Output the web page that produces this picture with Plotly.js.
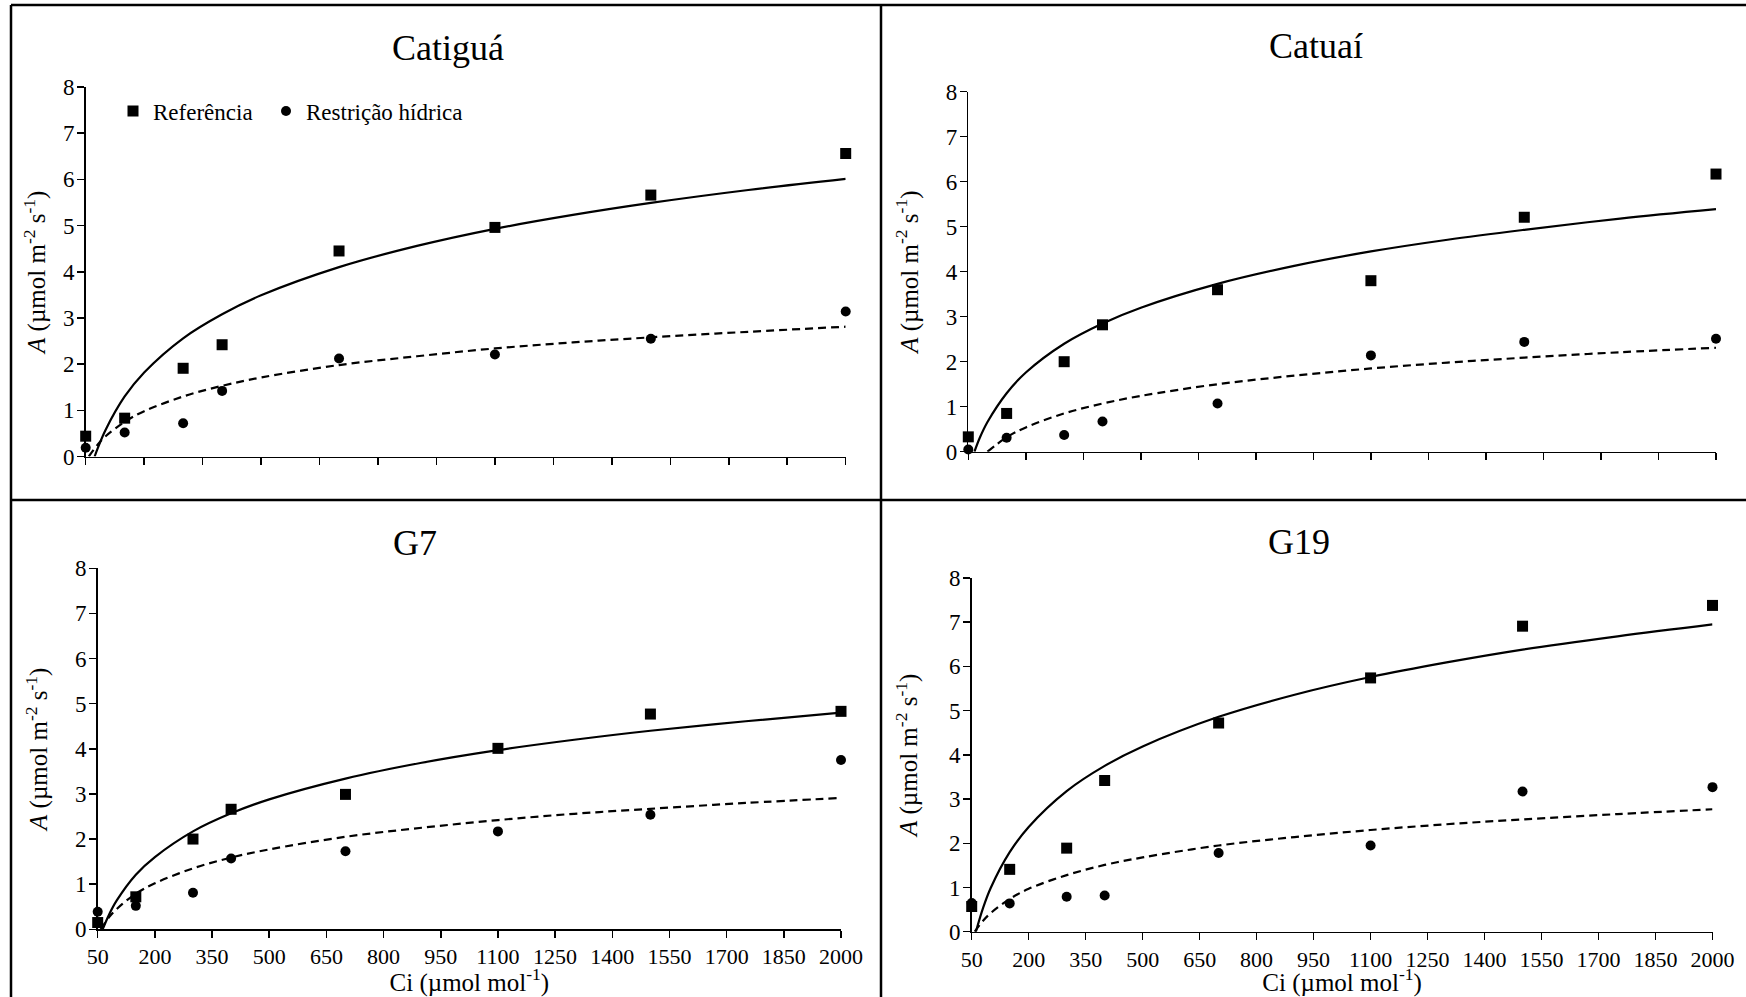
<!DOCTYPE html>
<html>
<head>
<meta charset="utf-8">
<script src="https://cdn.plot.ly/plotly-3.0.1.min.js"></script>
<style>
html,body{margin:0;padding:0;background:#ffffff;}
#chart{width:1746px;height:997px;}
</style>
</head>
<body>
<div id="chart"></div>
<script>
// ---------------- DATA ----------------
const panelTitles = ['Catiguá', 'Catuaí', 'G7', 'G19'];
const seriesNames = ['Referência', 'Restrição hídrica'];
const xTickVals = [50, 200, 350, 500, 650, 800, 950, 1100, 1250, 1400, 1550, 1700, 1850, 2000];
const yTickVals = [0, 1, 2, 3, 4, 5, 6, 7, 8];

// Ci values of the measured points (µmol mol-1)
const ci = [50, 150, 300, 400, 700, 1100, 1500, 2000];

// Measured A values (µmol m-2 s-1)
const catiguaRef  = [0.44, 0.83, 1.91, 2.42, 4.45, 4.96, 5.66, 6.56];
const catiguaRest = [0.19, 0.52, 0.72, 1.42, 2.12, 2.21, 2.55, 3.14];
const catuaiRef   = [0.33, 0.85, 2.00, 2.82, 3.60, 3.80, 5.21, 6.17];
const catuaiRest  = [0.05, 0.31, 0.37, 0.67, 1.07, 2.14, 2.44, 2.51];
const g7Ref       = [0.15, 0.72, 2.00, 2.66, 2.99, 4.01, 4.77, 4.83];
const g7Rest      = [0.39, 0.52, 0.81, 1.57, 1.73, 2.17, 2.54, 3.75];
const g19Ref      = [0.57, 1.41, 1.89, 3.42, 4.72, 5.74, 6.91, 7.38];
const g19Rest     = [0.65, 0.64, 0.79, 0.82, 1.78, 1.95, 3.17, 3.27];

// Trend curves (x, y pairs)
const catiguaRefFitX  = [73, 80, 100, 150, 200, 300, 400, 500, 700, 900, 1100, 1300, 1500, 1750, 2000];
const catiguaRefFitY  = [0, 0.16, 0.56, 1.30, 1.82, 2.56, 3.08, 3.49, 4.10, 4.56, 4.93, 5.23, 5.49, 5.77, 6.01];
const catiguaRestFitX = [58, 80, 100, 150, 200, 300, 400, 500, 700, 900, 1100, 1300, 1500, 1750, 2000];
const catiguaRestFitY = [0, 0.25, 0.43, 0.75, 0.98, 1.30, 1.53, 1.71, 1.98, 2.17, 2.34, 2.47, 2.58, 2.70, 2.81];
const catuaiRefFitX   = [66, 80, 100, 150, 200, 300, 400, 500, 700, 900, 1100, 1300, 1500, 1750, 2000];
const catuaiRefFitY   = [0, 0.31, 0.66, 1.30, 1.76, 2.40, 2.85, 3.20, 3.73, 4.13, 4.45, 4.71, 4.93, 5.18, 5.39];
const catuaiRestFitX  = [100, 150, 200, 300, 400, 500, 700, 900, 1100, 1300, 1500, 1750, 2000];
const catuaiRestFitY  = [0, 0.32, 0.54, 0.85, 1.07, 1.24, 1.50, 1.69, 1.85, 1.98, 2.09, 2.21, 2.31];
const g7RefFitX       = [63, 80, 100, 150, 200, 300, 400, 500, 700, 900, 1100, 1300, 1500, 1750, 2000];
const g7RefFitY       = [0, 0.33, 0.64, 1.21, 1.60, 2.17, 2.57, 2.88, 3.34, 3.69, 3.97, 4.20, 4.40, 4.61, 4.80];
const g7RestFitX      = [58, 80, 100, 150, 200, 300, 400, 500, 700, 900, 1100, 1300, 1500, 1750, 2000];
const g7RestFitY      = [0, 0.27, 0.45, 0.79, 1.02, 1.35, 1.59, 1.77, 2.05, 2.25, 2.42, 2.56, 2.67, 2.80, 2.91];
const g19RefFitX      = [61, 80, 100, 150, 200, 300, 400, 500, 700, 900, 1100, 1300, 1500, 1750, 2000];
const g19RefFitY      = [0, 0.54, 0.99, 1.80, 2.37, 3.18, 3.75, 4.19, 4.86, 5.36, 5.76, 6.09, 6.38, 6.68, 6.95];
const g19RestFitX     = [58, 80, 100, 150, 200, 300, 400, 500, 700, 900, 1100, 1300, 1500, 1750, 2000];
const g19RestFitY     = [0, 0.25, 0.42, 0.74, 0.97, 1.28, 1.51, 1.68, 1.95, 2.14, 2.30, 2.43, 2.54, 2.66, 2.77];

// ---------------- CHART ----------------
const FONT = "'Liberation Serif', 'Times New Roman', serif";
const panels = [
  {ref: catiguaRef, rest: catiguaRest, refFit: [catiguaRefFitX, catiguaRefFitY], restFit: [catiguaRestFitX, catiguaRestFitY]},
  {ref: catuaiRef,  rest: catuaiRest,  refFit: [catuaiRefFitX, catuaiRefFitY],   restFit: [catuaiRestFitX, catuaiRestFitY]},
  {ref: g7Ref,      rest: g7Rest,      refFit: [g7RefFitX, g7RefFitY],           restFit: [g7RestFitX, g7RestFitY]},
  {ref: g19Ref,     rest: g19Rest,     refFit: [g19RefFitX, g19RefFitY],         restFit: [g19RestFitX, g19RestFitY]}
];

const traces = [];
panels.forEach((p, i) => {
  const n = i === 0 ? '' : String(i + 1);
  const xa = 'x' + n, ya = 'y' + n;
  traces.push({x: p.refFit[0], y: p.refFit[1], xaxis: xa, yaxis: ya, type: 'scatter', mode: 'lines',
    line: {color: '#000', width: 2.2, shape: 'spline', smoothing: 1}, showlegend: false, hoverinfo: 'skip'});
  traces.push({x: p.restFit[0], y: p.restFit[1], xaxis: xa, yaxis: ya, type: 'scatter', mode: 'lines',
    line: {color: '#000', width: 2.2, dash: '8px,5px', shape: 'spline', smoothing: 1}, showlegend: false, hoverinfo: 'skip'});
  traces.push({x: ci, y: p.ref, xaxis: xa, yaxis: ya, type: 'scatter', mode: 'markers', name: seriesNames[0],
    legend: 'legend', marker: {symbol: 'square', size: 11, color: '#000'}, cliponaxis: false, showlegend: i === 0});
  traces.push({x: ci, y: p.rest, xaxis: xa, yaxis: ya, type: 'scatter', mode: 'markers', name: seriesNames[1],
    legend: 'legend2', marker: {symbol: 'circle', size: 10, color: '#000'}, cliponaxis: false, showlegend: i === 0});
});

const W = 1746, H = 997;
function px(x) { return x / W; }
function py(y) { return 1 - y / H; }

function xAxis(domain, anchor, showLabels) {
  const a = {domain: domain, anchor: anchor, range: [50, 2000], tickmode: 'array', tickvals: xTickVals,
    ticktext: xTickVals.map(String), showticklabels: showLabels, ticks: 'outside', ticklen: 7, tickwidth: 1.5,
    tickcolor: '#000', showline: true, linecolor: '#000', linewidth: 1.5, showgrid: false, zeroline: false,
    tickfont: {family: FONT, size: 22, color: '#000'}, fixedrange: true};
  if (showLabels) a.title = {text: 'Ci (µmol mol<sup>-1</sup>)', font: {family: FONT, size: 25, color: '#000'}, standoff: 6};
  return a;
}
function yAxis(domain, anchor, standoff) {
  return {domain: domain, anchor: anchor, range: [0, 8], tickmode: 'array', tickvals: yTickVals,
    ticks: 'outside', ticklen: 7, tickwidth: 1.5, tickcolor: '#000', ticklabelstandoff: -2,
    showline: true, linecolor: '#000', linewidth: 1.5,
    showgrid: false, zeroline: false, tickfont: {family: FONT, size: 23, color: '#000'}, fixedrange: true,
    title: {text: '<i>A</i> (µmol m<sup>-2</sup> s<sup>-1</sup>)', font: {family: FONT, size: 25, color: '#000'}, standoff: standoff}};
}

const legendBase = {orientation: 'h', xanchor: 'left', yanchor: 'middle', y: py(111),
  font: {family: FONT, size: 23, color: '#000'}, bgcolor: 'rgba(0,0,0,0)', borderwidth: 0};

const layout = {
  width: W, height: H,
  margin: {l: 0, r: 0, t: 0, b: 0, pad: 0},
  paper_bgcolor: '#fff', plot_bgcolor: 'rgba(0,0,0,0)',
  font: {family: FONT, color: '#000'},
  showlegend: true,
  legend: Object.assign({}, legendBase, {x: px(113)}),
  legend2: Object.assign({}, legendBase, {x: px(266)}),
  xaxis:  xAxis([px(85.7), px(845.7)], 'y', false),
  yaxis:  yAxis([py(456.5), py(87)], 'x', 10),
  xaxis2: xAxis([px(968.3), px(1716)], 'y2', false),
  yaxis2: yAxis([py(451.7), py(91.7)], 'x2', 20),
  xaxis3: xAxis([px(97.7), px(841)], 'y3', true),
  yaxis3: yAxis([py(929.3), py(568.3)], 'x3', 20),
  xaxis4: xAxis([px(971.7), px(1712.5)], 'y4', true),
  yaxis4: yAxis([py(931.7), py(578)], 'x4', 24),
  annotations: [
    {text: panelTitles[0], x: px(448), y: py(47.5)},
    {text: panelTitles[1], x: px(1315.6), y: py(45.8)},
    {text: panelTitles[2], x: px(415.3), y: py(543.2)},
    {text: panelTitles[3], x: px(1299), y: py(542.3)}
  ].map(a => Object.assign(a, {xref: 'paper', yref: 'paper', xanchor: 'center', yanchor: 'middle', showarrow: false,
    font: {family: FONT, size: 36, color: '#000'}})),
  shapes: [
    {type: 'line', xref: 'paper', yref: 'paper', x0: px(11), x1: 1, y0: py(5), y1: py(5)},
    {type: 'line', xref: 'paper', yref: 'paper', x0: px(11), x1: px(11), y0: py(5), y1: 0},
    {type: 'line', xref: 'paper', yref: 'paper', x0: px(881), x1: px(881), y0: py(5), y1: 0},
    {type: 'line', xref: 'paper', yref: 'paper', x0: px(11), x1: 1, y0: py(500), y1: py(500)}
  ].map(s => Object.assign(s, {line: {color: '#000', width: 2.5}}))
};

Plotly.newPlot('chart', traces, layout, {displayModeBar: false, staticPlot: true});
</script>
</body>
</html>
